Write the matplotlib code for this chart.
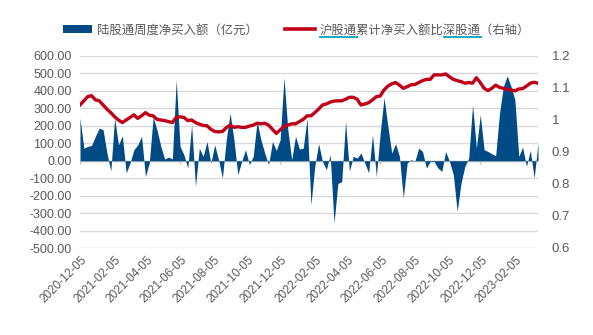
import matplotlib
matplotlib.use("Agg")
import matplotlib.pyplot as plt
import pandas as pd
from matplotlib.lines import Line2D
from matplotlib.patches import Patch

# weekly net buy of northbound (100m CNY), one value per week from 2020-12-04
weekly_flow = [
    244, 72, 82, 88, 140, 187, 177, 44, -60, 244,
    91, 143, -70, -13, 63, 91, 140, -90, -13, 250,
    177, 82, 10, 21, 10, 463, 82, 34, -42, 206,
    -147, 72, 25, 110, -13, 91, 6, -99, 120, 272,
    120, -80, -4, 63, -23, 25, 225, 120, 44, -23,
    110, 59, 120, 476, 177, 6, 140, 67, 72, 244,
    -251, -32, 97, -4, -51, 34, -356, -130, -120, 225,
    -60, 25, 15, 44, -13, -70, 149, -90, 158, 362,
    196, 44, 97, 25, -213, -13, 6, -4, 72, 53,
    -42, -4, -4, -42, -61, 53, -4, -80, -290, -128,
    -32, 15, 320, 72, 263, 63, 53, 40, 29, 272,
    425, 486, 425, 349, 25, 78, -32, 59, -99, 101,
]

# cumulative SH-connect / SZ-connect net buy ratio (right axis)
sh_sz_ratio = [
    1.047, 1.060, 1.073, 1.076, 1.063, 1.060, 1.047, 1.034, 1.023, 1.010,
    1.000, 0.992, 1.000, 1.008, 1.016, 1.005, 1.013, 1.023, 1.015, 1.013,
    1.002, 1.000, 0.998, 0.995, 0.992, 1.008, 1.010, 1.008, 0.998, 1.000,
    0.992, 0.987, 0.983, 0.982, 0.971, 0.964, 0.963, 0.964, 0.976, 0.984,
    0.977, 0.979, 0.977, 0.977, 0.981, 0.984, 0.990, 0.988, 0.990, 0.984,
    0.971, 0.958, 0.969, 0.979, 0.984, 0.988, 0.988, 0.995, 1.002, 1.013,
    1.013, 1.023, 1.034, 1.047, 1.050, 1.056, 1.059, 1.060, 1.060, 1.065,
    1.071, 1.071, 1.065, 1.047, 1.050, 1.054, 1.063, 1.073, 1.075, 1.094,
    1.106, 1.113, 1.117, 1.109, 1.099, 1.104, 1.110, 1.111, 1.117, 1.123,
    1.127, 1.127, 1.141, 1.141, 1.141, 1.144, 1.135, 1.127, 1.123, 1.120,
    1.115, 1.117, 1.115, 1.132, 1.117, 1.099, 1.092, 1.099, 1.109, 1.102,
    1.099, 1.096, 1.094, 1.091, 1.097, 1.098, 1.106, 1.115, 1.118, 1.115,
]

dates = pd.date_range("2020-12-04", periods=len(weekly_flow), freq="7D")

x_tick_labels = [
    "2020-12-05", "2021-02-05", "2021-04-05", "2021-06-05", "2021-08-05",
    "2021-10-05", "2021-12-05", "2022-02-05", "2022-04-05", "2022-06-05",
    "2022-08-05", "2022-10-05", "2022-12-05", "2023-02-05",
]
# small marks on the zero line (every 26 weeks)
zero_marks = ["2020-12-04", "2021-06-04", "2021-12-03", "2022-06-03", "2022-12-02"]
left_ticks = list(range(-500, 601, 100))
right_ticks = [0.6, 0.7, 0.8, 0.9, 1.0, 1.1, 1.2]

bar_label = "陆股通周度净买入额（亿元）"
line_label = "沪股通累计净买入额比深股通（右轴）"

BLUE = "#004a85"
RED = "#c00018"
GRID = "#d9d9d9"
TXT = "#595959"

plt.rcParams["font.family"] = ["Liberation Sans", "Noto Sans CJK SC"]

fig = plt.figure(figsize=(5.93, 3.35), dpi=100)
ax = fig.add_axes([80 / 593, 1 - 248 / 335, 458 / 593, 192 / 335])
ax2 = ax.twinx()

ax.axhline(0, color="#bfbfbf", linewidth=1, zorder=2)
ax.vlines(pd.to_datetime(zero_marks), -18, 0, color="#bfbfbf", linewidth=1, zorder=2)
ax.fill_between(dates, 0, weekly_flow, color=BLUE, linewidth=0, zorder=3)
ax2.plot(dates, sh_sz_ratio, color=RED, linewidth=2.4, solid_joinstyle="round", zorder=4)

ax.set_xlim(dates[0], dates[-1])
ax.set_ylim(-500, 600)
ax2.set_ylim(0.6, 1.2)

ax.set_yticks(left_ticks)
ax.set_yticklabels([f"{v:.2f}" for v in left_ticks])
ax2.set_yticks(right_ticks)
ax2.set_yticklabels([f"{v:g}" for v in right_ticks])

tick_dates = pd.to_datetime(x_tick_labels)
ax.set_xticks(tick_dates)
ax.set_xticklabels(x_tick_labels, rotation=45, ha="right", rotation_mode="anchor")

ax.grid(axis="y", color=GRID, linewidth=1)
ax.set_axisbelow(True)
for a in (ax, ax2):
    for s in a.spines.values():
        s.set_visible(False)
    a.tick_params(length=0, colors=TXT)
ax.tick_params(axis="y", labelsize=9, pad=6)
ax2.tick_params(axis="y", labelsize=9.5, pad=10)
ax.tick_params(axis="x", labelsize=8.5, pad=4)

handles = [
    Patch(facecolor=BLUE, edgecolor="none"),
    Line2D([], [], color=RED, linewidth=2.6),
]
leg = fig.legend(
    handles, [bar_label, line_label],
    loc="center", bbox_to_anchor=(0.5, 1 - 30 / 335), ncol=2, frameon=False,
    prop={"family": ["Noto Sans CJK SC"], "size": 8.9},
    handlelength=2.4, handleheight=0.6, columnspacing=2.2, handletextpad=0.4,
    labelcolor=TXT,
)

# teal underlines below 沪股通 / 深股通 as in the source
fig.canvas.draw()
rend = fig.canvas.get_renderer()
bb = leg.get_texts()[1].get_window_extent(rend)
cw = bb.width / len(line_label)
W, H = fig.bbox.width, fig.bbox.height
for start in (0, 10):
    x0 = bb.x0 + start * cw
    x1 = x0 + 3 * cw
    y = bb.y0 - 0.5
    fig.add_artist(Line2D([x0 / W, x1 / W], [y / H, y / H], transform=fig.transFigure,
                          color="#17a9c4", linewidth=1.4))

fig.savefig("out.png", dpi=100)
